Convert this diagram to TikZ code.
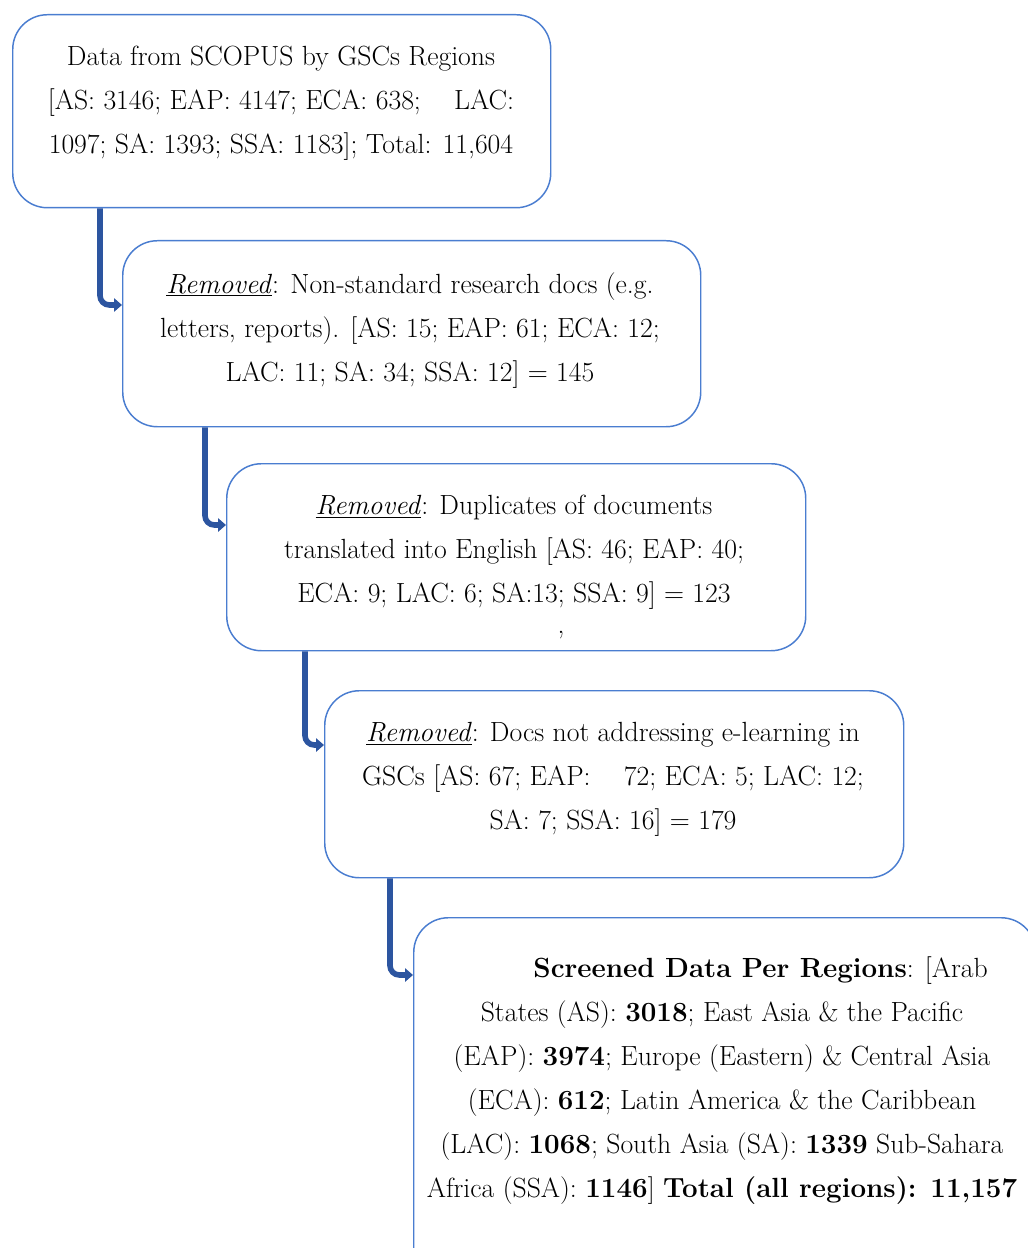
\documentclass[tikz,border=0pt]{standalone}
\usetikzlibrary{arrows.meta}
\definecolor{boxblue}{HTML}{4A7DD0}
\definecolor{arrblue}{HTML}{2C55A0}
\begin{document}
\begin{tikzpicture}[x=0.75pt,y=-0.75pt,
  box/.style={draw=boxblue, line width=1.1pt, rounded corners=26pt, fill=white, anchor=north west, inner sep=0pt},
  txt/.style={align=center, font=\fontsize{20.8}{33}\selectfont, anchor=north, inner sep=0pt},
  conn/.style={draw=arrblue, line width=4.2pt, rounded corners=7pt, -{Triangle[width=10pt,length=6pt]}}]
\useasboundingbox (0,0) rectangle (1027,1248);
\node[box, minimum width={538*0.75pt}, minimum height={193*0.75pt}] (b1) at (12,14) {};
\node[box, minimum width={578*0.75pt}, minimum height={186*0.75pt}] (b2) at (122,240) {};
\node[box, minimum width={579*0.75pt}, minimum height={187*0.75pt}] (b3) at (226,463) {};
\node[box, minimum width={579*0.75pt}, minimum height={187*0.75pt}] (b4) at (324,690) {};
\node[box, minimum width={622*0.75pt}, minimum height={373*0.75pt}] (b5) at (413,917) {};
\node[txt] (t1) at (281,46) {Data from SCOPUS by GSCs Regions\\
{[}AS: 3146; EAP: 4147; ECA: 638;\hspace{1.2em}LAC:\\
1097; SA: 1393; SSA: 1183]; Total: 11,604};
\node[txt] (t2) at (410,272) {\underline{\textit{Removed}}: Non-standard research docs (e.g.\\
letters, reports). [AS: 15; EAP: 61; ECA: 12;\\
LAC: 11; SA: 34; SSA: 12] = 145};
\node[txt] (t3) at (514,495) {\underline{\textit{Removed}}: Duplicates of documents\\
translated into English [AS: 46; EAP: 40;\\
ECA: 9; LAC: 6; SA:13; SSA: 9] = 123};
\node[txt] (comma) at (561,631) {,};
\node[txt] (t4) at (613,722) {\underline{\textit{Removed}}: Docs not addressing e-learning in\\
GSCs [AS: 67; EAP:\hspace{1.2em}72; ECA: 5; LAC: 12;\\
SA: 7; SSA: 16] = 179};
\node[txt] (t5) at (722,956) {\hspace*{58pt}\textbf{Screened Data Per Regions}: [Arab\\
States (AS): \textbf{3018}; East Asia \& the Pacific\\
(EAP): \textbf{3974}; Europe (Eastern) \& Central Asia\\
(ECA): \textbf{612}; Latin America \& the Caribbean\\
(LAC): \textbf{1068}; South Asia (SA): \textbf{1339} Sub-Sahara\\
Africa (SSA): \textbf{1146}] \textbf{Total (all regions): 11,157}};
\draw[conn] ([xshift={88*0.75pt}]b1.south west) |- ([yshift={-65*0.75pt}]b2.north west);
\draw[conn] ([xshift={83*0.75pt}]b2.south west) |- ([yshift={-62*0.75pt}]b3.north west);
\draw[conn] ([xshift={79*0.75pt}]b3.south west) |- ([yshift={-55*0.75pt}]b4.north west);
\draw[conn] ([xshift={66*0.75pt}]b4.south west) |- ([yshift={-58*0.75pt}]b5.north west);
\end{tikzpicture}
\end{document}
